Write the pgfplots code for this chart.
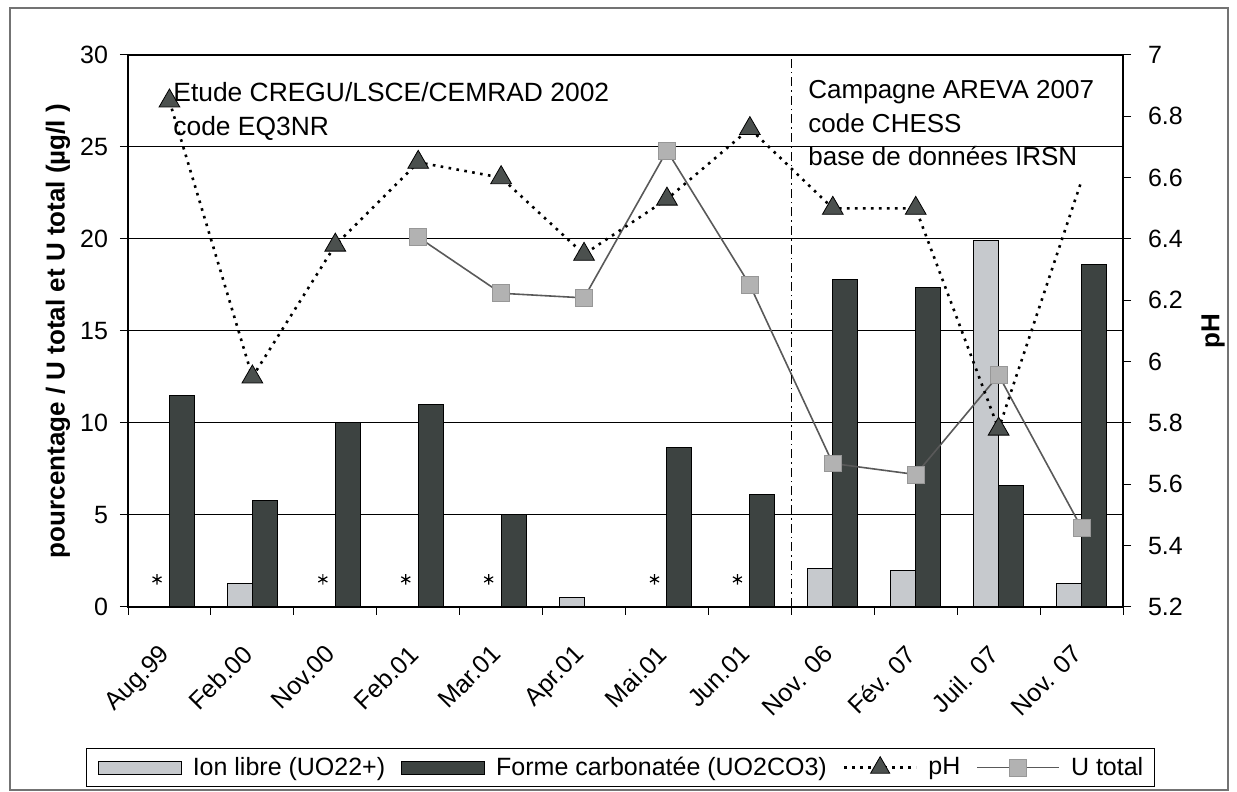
\documentclass[border=0pt]{standalone}
\usepackage{fontspec}
\setmainfont{Liberation Sans}
\usepackage{pgfplots}
\pgfplotsset{compat=1.18}
\definecolor{lightbar}{HTML}{C6C9CD}
\definecolor{darkbar}{HTML}{3D4341}
\definecolor{trifill}{HTML}{4B504E}
\definecolor{sqfill}{HTML}{B2B2B2}
\pgfplotsset{
  barleg/.style={legend image code/.code={\draw[##1] (0pt,-3.25pt) rectangle (41.5pt,3.25pt);}},
  phleg/.style={legend image code/.code={\draw[mark repeat=2, mark phase=2, ##1] plot coordinates {(0pt,0pt) (18pt,0pt) (36pt,0pt)};}},
  uleg/.style={legend image code/.code={\draw[mark repeat=2, mark phase=2, ##1] plot coordinates {(0pt,0pt) (20.5pt,0pt) (41pt,0pt)};}},
}
\begin{document}
\begin{tikzpicture}
\path[use as bounding box] (0,0) rectangle (618.5pt,396pt);
\draw[black!55, line width=0.7pt] (5pt,1pt) rectangle (614pt,392pt);
\pgfplotsset{
  common/.style={
    at={(64pt,92.5pt)}, anchor=south west,
    width=497.5pt, height=276pt, scale only axis,
    xmin=-0.5, xmax=11.5,
    tick align=outside, major tick length=4pt,
    axis line style={black, line width=0.6pt},
    tick style={black, line width=0.5pt},
    /pgf/number format/assume math mode=true,
    tick label style={font=\fontsize{12.5}{14}\selectfont},
  }
}
\begin{axis}[common,
  ymin=0, ymax=30, ytick={0,5,...,30}, ymajorgrids,
  major grid style={black, line width=0.5pt},
  ytick pos=left, xtick pos=bottom,
  yticklabel style={xshift=-2.5pt},
  xtick={-0.5,0.5,1.5,2.5,3.5,4.5,5.5,6.5,7.5,8.5,9.5,10.5,11.5}, xticklabels={},
  extra x ticks={0,1,2,3,4,5,6,7,8,9,10,11},
  extra x tick labels={Aug.99,Feb.00,Nov.00,Feb.01,Mar.01,Apr.01,Mai.01,Jun.01,Nov. 06,Fév. 07,Juil. 07,Nov. 07},
  extra x tick style={major tick length=0pt, grid=none,
    tick label style={font=\fontsize{12.5}{14}\selectfont, xshift=-5.5pt, yshift=-18pt, rotate=45, anchor=north east, inner sep=0pt}},
  ylabel={pourcentage / U total et U total (µg/l )},
  ylabel style={font=\bfseries\fontsize{13}{15}\selectfont, at={(axis description cs:-0.0703,0.5)}, anchor=center},
]
% Ion libre (UO22+)
\addplot[ybar, bar width=12.5pt, bar shift=-6.25pt, fill=lightbar, draw=black, line width=0.5pt]
  coordinates {(1,1.3) (5,0.5) (8,2.1) (9,2.0) (10,19.9) (11,1.3)};
% Forme carbonatee (UO2CO3)
\addplot[ybar, bar width=12.5pt, bar shift=6.25pt, fill=darkbar, draw=black, line width=0.5pt]
  coordinates {(0,11.5) (1,5.8) (2,10.0) (3,11.0) (4,5.0) (6,8.65) (7,6.1) (8,17.8) (9,17.35) (10,6.6) (11,18.6)};
% asterisks
\addplot[only marks, mark=asterisk, mark size=2.6pt, black, line width=0.6pt]
  coordinates {(-0.15,1.5) (1.85,1.5) (2.85,1.5) (3.85,1.5) (5.85,1.5) (6.85,1.5)};
% U total
\addplot[color=black!65, line width=0.8pt, mark=square*, mark size=4.2pt,
  mark options={solid, fill=sqfill, draw=sqfill!85!black, line width=0.4pt}]
  coordinates {(3,20.1) (4,17.05) (5,16.8) (6,24.8) (7,17.5) (8,7.8) (9,7.2) (10,12.6) (11,4.3)};
% separator
\addplot[black, line width=0.8pt, dash pattern=on 4.5pt off 2pt on 0.8pt off 2pt]
  coordinates {(7.5,0) (7.5,30)};
\end{axis}
\begin{axis}[common,
  ymin=5.2, ymax=7, ytick={5.2,5.4,5.6,5.8,6,6.2,6.4,6.6,6.8,7},
  axis x line=none, axis y line*=right,
  yticklabel style={xshift=5pt},
  ylabel={pH},
  ylabel style={font=\bfseries\fontsize{13}{15}\selectfont, at={(axis description cs:1.0905,0.5)}, anchor=center},
  legend columns=4,
  legend style={at={(0.495,-0.2908)}, anchor=center, draw=black, line width=0.5pt,
    font=\fontsize{12.5}{14}\selectfont, inner xsep=5.5pt, inner ysep=4pt,
    nodes={inner sep=0pt},
    /tikz/every odd column/.append style={column sep=5.5pt},
    /tikz/every even column/.append style={column sep=8pt}},
]
\addlegendimage{barleg, fill=lightbar, draw=black, line width=0.5pt}
\addlegendentry{Ion libre (UO22+)}
\addlegendimage{barleg, fill=darkbar, draw=black, line width=0.5pt}
\addlegendentry{Forme carbonatée (UO2CO3)}
\addlegendimage{phleg, black, line width=1.3pt, dash pattern=on 1.3pt off 2.7pt, mark=triangle*, mark size=5.5pt,
  mark options={solid, fill=trifill, draw=black, line width=0.4pt}}
\addlegendentry{pH}
\addlegendimage{uleg, color=black!65, line width=0.8pt, mark=square*, mark size=4.2pt,
  mark options={solid, fill=sqfill, draw=sqfill!85!black, line width=0.4pt}}
\addlegendentry{U total}
% pH
\addplot[forget plot, black, line width=1.3pt, dash pattern=on 1.3pt off 2.7pt,
  mark=triangle*, mark size=6pt, mark indices={1,2,3,4,5,6,7,8,9,10,11},
  mark options={solid, fill=trifill, draw=black, line width=0.4pt}]
  coordinates {(0,6.85) (1,5.95) (2,6.38) (3,6.65) (4,6.6) (5,6.35) (6,6.53) (7,6.76) (8,6.5) (9,6.5) (10,5.78) (11,6.59)};
\end{axis}
\node[anchor=north west, inner sep=0pt, align=left, font=\fontsize{13.2}{17}\selectfont] at (86.5pt,355pt)
  {Etude CREGU/LSCE/CEMRAD 2002\\code EQ3NR};
\node[anchor=north west, inner sep=0pt, align=left, font=\fontsize{13}{16.75}\selectfont] at (404pt,356pt)
  {Campagne AREVA 2007\\code CHESS\\base de données IRSN};
\end{tikzpicture}
\end{document}
